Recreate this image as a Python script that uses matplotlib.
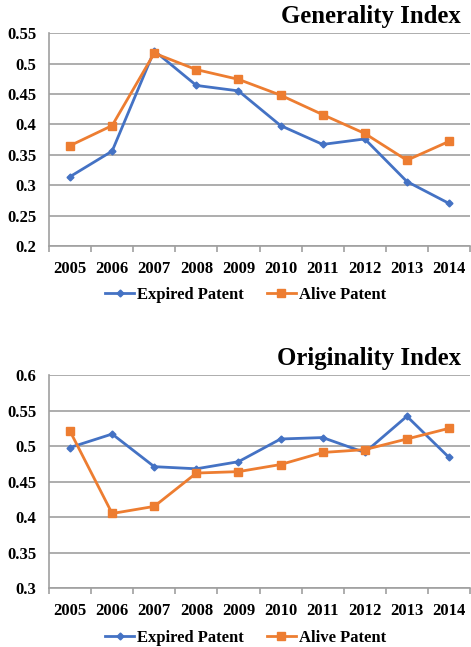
import numpy as np
import matplotlib.pyplot as plt

years = ['2005', '2006', '2007', '2008', '2009', '2010', '2011', '2012', '2013', '2014']

gen_expired = [0.314, 0.356, 0.521, 0.464, 0.455, 0.398, 0.367, 0.376, 0.306, 0.270]
gen_alive = [0.365, 0.398, 0.517, 0.490, 0.474, 0.448, 0.416, 0.385, 0.341, 0.372]

orig_expired = [0.498, 0.517, 0.471, 0.468, 0.478, 0.510, 0.512, 0.491, 0.542, 0.484]
orig_alive = [0.521, 0.405, 0.415, 0.462, 0.464, 0.474, 0.491, 0.495, 0.510, 0.525]

plt.rcParams['font.family'] = ['Liberation Serif', 'DejaVu Serif']
plt.rcParams['font.weight'] = 'bold'

blue = '#4472C4'
orange = '#ED7D31'
grey = '#A0A0A0'

fig = plt.figure(figsize=(4.71, 6.47), dpi=100)


def panel(rect, title, expired, alive, ylim, yticks, ylabels, title_y, leg_y):
    ax = fig.add_axes(rect)
    x = np.arange(len(years))
    ax.plot(x, expired, color=blue, lw=2, marker='D', ms=3.5, label='Expired Patent')
    ax.plot(x, alive, color=orange, lw=2, marker='s', ms=5.5, label='Alive Patent')
    ax.set_xlim(-0.5, len(years) - 0.5)
    ax.set_ylim(*ylim)
    ax.set_yticks(yticks)
    ax.set_yticklabels(ylabels)
    ax.yaxis.grid(True, color=grey, lw=1.2)
    ax.set_axisbelow(True)
    ax.set_xticks(np.arange(-0.5, len(years), 1))
    ax.set_xticklabels([])
    ax.set_xticks(x, minor=True)
    ax.set_xticklabels(years, minor=True)
    ax.tick_params(axis='x', which='major', length=4, color=grey, width=1.2)
    ax.tick_params(axis='x', which='minor', length=0, pad=11, labelsize=12)
    ax.tick_params(axis='y', length=0, pad=9, labelsize=12)
    for s in ['top', 'right']:
        ax.spines[s].set_visible(False)
    for s in ['left', 'bottom']:
        ax.spines[s].set_color(grey)
        ax.spines[s].set_linewidth(1.2)
    fig.text(0.979, title_y, title, ha='right', va='center', fontsize=17.8, fontweight='bold')
    ax.legend(loc='center', bbox_to_anchor=(0.521, leg_y), bbox_transform=fig.transFigure,
              ncol=2, frameon=False, fontsize=12, handlelength=1.75, columnspacing=1.4,
              handletextpad=0.15)
    return ax


panel([0.104, 0.6198, 0.894, 0.329], 'Generality Index', gen_expired, gen_alive,
      (0.2, 0.55), [0.2, 0.25, 0.3, 0.35, 0.4, 0.45, 0.5, 0.55],
      ['0.2', '0.25', '0.3', '0.35', '0.4', '0.45', '0.5', '0.55'],
      1 - 17 / 647, 1 - 295 / 647)

panel([0.104, 0.0912, 0.894, 0.329], 'Originality Index', orig_expired, orig_alive,
      (0.3, 0.6), [0.3, 0.35, 0.4, 0.45, 0.5, 0.55, 0.6],
      ['0.3', '0.35', '0.4', '0.45', '0.5', '0.55', '0.6'],
      1 - 358 / 647, 1 - 638 / 647)

fig.savefig('out.png', dpi=100)
